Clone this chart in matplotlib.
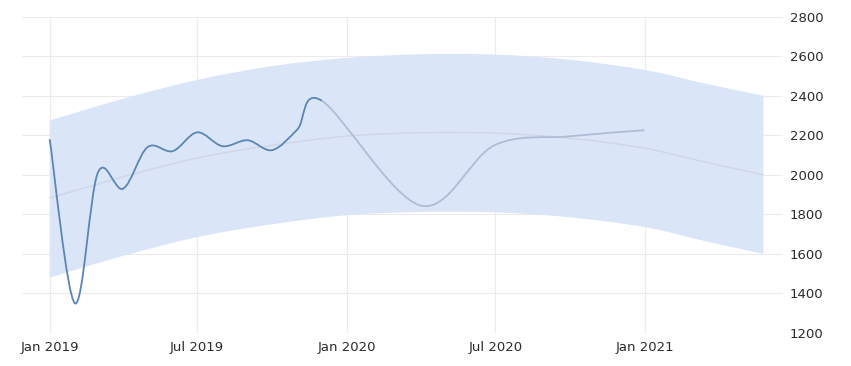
import datetime as dt
import matplotlib
matplotlib.use("Agg")
import matplotlib.pyplot as plt
import matplotlib.dates as mdates
from matplotlib.path import Path
from matplotlib.patches import PathPatch

# actual monthly values, Jan 2019 - Dec 2019
actual_dates = [dt.date(2019, m, 1) for m in range(1, 13)]
actual_values = [2180, 1350, 2010, 1930, 2140, 2120, 2215, 2145, 2175, 2125, 2230, 2375]

# forecast (quarter ends)
forecast_dates = [dt.date(2020, 3, 31), dt.date(2020, 6, 30), dt.date(2020, 9, 30), dt.date(2020, 12, 31)]
forecast_values = [1845, 2150, 2195, 2226]

# long-term trend with confidence band
band_dates = [dt.date(2019, 1, 1), dt.date(2019, 4, 1), dt.date(2019, 7, 1), dt.date(2019, 10, 1),
              dt.date(2020, 1, 1), dt.date(2020, 4, 1), dt.date(2020, 7, 1), dt.date(2020, 10, 1),
              dt.date(2021, 1, 1), dt.date(2021, 3, 15), dt.date(2021, 5, 26)]
trend_values = [1882, 1990, 2085, 2150, 2196, 2213, 2211, 2185, 2134, 2065, 2000]
upper_values = [2275, 2385, 2480, 2550, 2592, 2610, 2608, 2582, 2530, 2462, 2400]
lower_values = [1480, 1590, 1685, 1750, 1796, 1812, 1810, 1785, 1735, 1665, 1600]

x_ticks = [dt.date(2019, 1, 1), dt.date(2019, 7, 1), dt.date(2020, 1, 1), dt.date(2020, 7, 1), dt.date(2021, 1, 1)]
x_labels = ["Jan 2019", "Jul 2019", "Jan 2020", "Jul 2020", "Jan 2021"]
y_ticks = [1200, 1400, 1600, 1800, 2000, 2200, 2400, 2600, 2800]


def spline_segments(xs, ys):
    """Catmull-Rom spline as a list of cubic bezier segments (c1, c2, end)."""
    n = len(xs)
    segs = []
    for i in range(n - 1):
        a = max(i - 1, 0)
        d = min(i + 2, n - 1)
        c1 = (xs[i] + (xs[i + 1] - xs[a]) / 6, ys[i] + (ys[i + 1] - ys[a]) / 6)
        c2 = (xs[i + 1] - (xs[d] - xs[i]) / 6, ys[i + 1] - (ys[d] - ys[i]) / 6)
        segs.append((c1, c2, (xs[i + 1], ys[i + 1])))
    return segs


def make_path(start, segs):
    verts = [start]
    codes = [Path.MOVETO]
    for seg in segs:
        verts += list(seg)
        codes += [Path.CURVE4] * 3
    return verts, codes


fig = plt.figure(figsize=(8.51, 3.66), dpi=100)
ax = fig.add_axes([22 / 851, 1 - 333 / 366, (783 - 22) / 851, (333 - 16.7) / 366])

# band
bx = [mdates.date2num(d) for d in band_dates]
up_segs = spline_segments(bx, upper_values)
lo_segs = spline_segments(bx[::-1], lower_values[::-1])
v1, c1 = make_path((bx[0], upper_values[0]), up_segs)
v2, c2 = make_path((bx[-1], lower_values[-1]), lo_segs)
c2[0] = Path.LINETO
verts = v1 + v2 + [v1[0]]
codes = c1 + c2 + [Path.CLOSEPOLY]
ax.add_patch(PathPatch(Path(verts, codes), facecolor="#dbe5f8", edgecolor="none", zorder=1))

# trend line
tv, tc = make_path((bx[0], trend_values[0]), spline_segments(bx, trend_values))
ax.add_patch(PathPatch(Path(tv, tc), facecolor="none", edgecolor="#cfd6e4", lw=1.0, zorder=2))

# actual + forecast as one smooth curve, split in two colours
all_x = [mdates.date2num(d) for d in actual_dates + forecast_dates]
all_y = actual_values + forecast_values
segs = spline_segments(all_x, all_y)
k = len(actual_dates) - 1
av, ac = make_path((all_x[0], all_y[0]), segs[:k])
fv, fc = make_path((all_x[k], all_y[k]), segs[k:])
ax.add_patch(PathPatch(Path(fv, fc), facecolor="none", edgecolor="#aebdd4", lw=1.3, zorder=3))
ax.add_patch(PathPatch(Path(av, ac), facecolor="none", edgecolor="#5a86b6", lw=1.3, zorder=4))

ax.set_xlim(mdates.date2num(dt.date(2018, 11, 28)), mdates.date2num(dt.date(2021, 6, 19)))
ax.set_ylim(1200, 2800)
ax.set_xticks([mdates.date2num(d) for d in x_ticks])
ax.set_xticklabels(x_labels)
ax.set_yticks(y_ticks)
ax.yaxis.tick_right()
ax.tick_params(axis="both", length=0, labelsize=9.5, colors="#2b2b2b")
ax.tick_params(axis="y", pad=5)
ax.tick_params(axis="x", pad=6)
ax.grid(True, color="#ebebeb", lw=0.8, zorder=0)
ax.set_axisbelow(True)
for s in ax.spines.values():
    s.set_visible(False)

fig.savefig("out.png", dpi=100)
